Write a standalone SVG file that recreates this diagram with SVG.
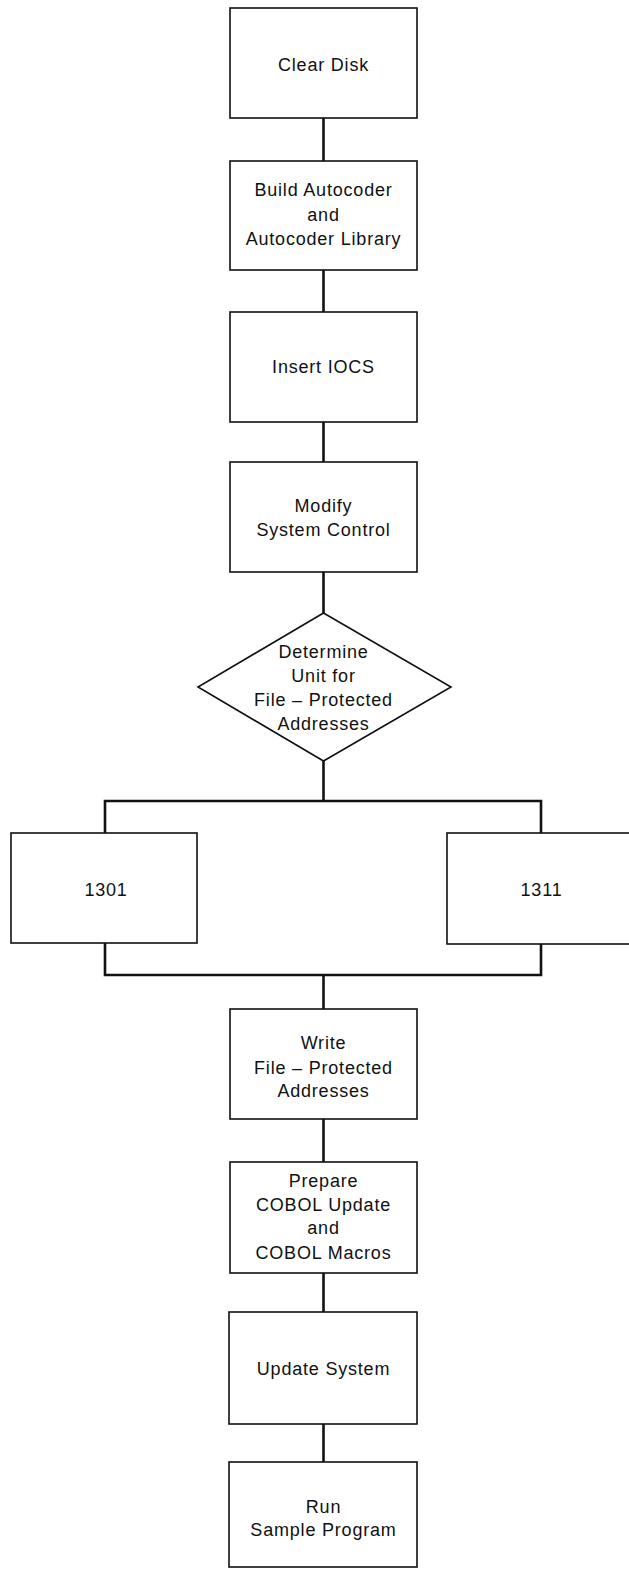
<svg xmlns="http://www.w3.org/2000/svg" width="629" height="1569" viewBox="0 0 629 1569">
<style>
.box{fill:#fff;stroke:#111;stroke-width:1.6}
.conn{fill:none;stroke:#111;stroke-width:2.6}
text{font-family:"Liberation Sans",Arial,sans-serif;font-size:18px;fill:#111;text-anchor:middle;letter-spacing:0.8px}
</style>
<rect width="629" height="1569" fill="#fff"/>
<g id="connectors">
<line class="conn" x1="323.5" y1="118" x2="323.5" y2="161"/>
<line class="conn" x1="323.5" y1="270" x2="323.5" y2="312"/>
<line class="conn" x1="323.5" y1="422" x2="323.5" y2="462"/>
<line class="conn" x1="323.5" y1="572" x2="323.5" y2="613"/>
<line class="conn" x1="323.5" y1="761" x2="323.5" y2="801"/>
<polyline class="conn" points="105,833 105,801 541,801 541,833"/>
<polyline class="conn" points="105,943 105,975 541,975 541,943"/>
<line class="conn" x1="323.5" y1="975" x2="323.5" y2="1009"/>
<line class="conn" x1="323.5" y1="1119" x2="323.5" y2="1162"/>
<line class="conn" x1="323.5" y1="1273" x2="323.5" y2="1312"/>
<line class="conn" x1="323.5" y1="1424" x2="323.5" y2="1462"/>
</g>
<g id="clear-disk">
<rect class="box" x="230" y="8" width="187" height="110"/>
<text x="323.5" y="71">Clear Disk</text>
</g>
<g id="build-autocoder">
<rect class="box" x="230" y="161" width="187" height="109"/>
<text x="323.5" y="196">Build Autocoder</text>
<text x="323.5" y="221">and</text>
<text x="323.5" y="245">Autocoder Library</text>
</g>
<g id="insert-iocs">
<rect class="box" x="230" y="312" width="187" height="110"/>
<text x="323.5" y="373">Insert IOCS</text>
</g>
<g id="modify-system-control">
<rect class="box" x="230" y="462" width="187" height="110"/>
<text x="323.5" y="512">Modify</text>
<text x="323.5" y="536">System Control</text>
</g>
<g id="determine-unit">
<polygon class="box" points="323.5,613 451,687 323.5,761 198,687"/>
<text x="323.5" y="658">Determine</text>
<text x="323.5" y="682">Unit for</text>
<text x="323.5" y="706">File – Protected</text>
<text x="323.5" y="730">Addresses</text>
</g>
<g id="unit-1301">
<rect class="box" x="11" y="833" width="186" height="110"/>
<text x="106" y="896">1301</text>
</g>
<g id="unit-1311">
<rect class="box" x="447" y="833" width="188" height="111"/>
<text x="541.5" y="896">1311</text>
</g>
<g id="write-fpa">
<rect class="box" x="230" y="1009" width="187" height="110"/>
<text x="323.5" y="1049">Write</text>
<text x="323.5" y="1074">File – Protected</text>
<text x="323.5" y="1097">Addresses</text>
</g>
<g id="prepare-cobol">
<rect class="box" x="230" y="1162" width="187" height="111"/>
<text x="323.5" y="1187">Prepare</text>
<text x="323.5" y="1211">COBOL Update</text>
<text x="323.5" y="1234">and</text>
<text x="323.5" y="1259">COBOL Macros</text>
</g>
<g id="update-system">
<rect class="box" x="229" y="1312" width="188" height="112"/>
<text x="323.5" y="1375">Update System</text>
</g>
<g id="run-sample">
<rect class="box" x="229" y="1462" width="188" height="105"/>
<text x="323.5" y="1513">Run</text>
<text x="323.5" y="1536">Sample Program</text>
</g>
</svg>
